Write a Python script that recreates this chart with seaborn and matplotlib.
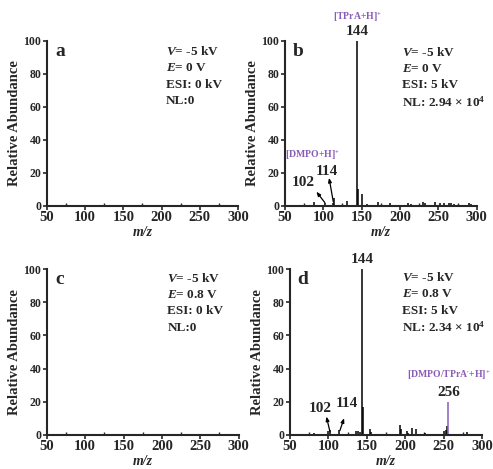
import numpy as np
import pandas as pd
import matplotlib
matplotlib.use("Agg")
import matplotlib.pyplot as plt
import seaborn as sns
from matplotlib.ticker import MultipleLocator

# peak lists (m/z, relative abundance %)
mz_b = [88, 102, 113, 114, 131, 144, 145, 151, 157, 171, 187, 210, 214, 230, 232,
        245, 252, 257, 264, 267, 270, 290, 292]
ab_b = [2.5, 2, 1.5, 4.5, 3, 100, 10.5, 7.5, 1, 2.5, 1.5, 1.5, 1, 2.5, 2,
        2.5, 2, 1.5, 1.5, 1.5, 1, 1.5, 1]

mz_d = [82, 100, 102, 114, 136, 139, 141, 144, 145, 154, 156, 193, 195, 202, 204,
        209, 214, 226, 251, 253, 254, 280]
ab_d = [1, 2.5, 3, 3, 2, 2.5, 1.5, 100, 17, 3.5, 1.5, 6, 3.5, 2, 1,
        4, 3.5, 1, 2, 3, 5, 1.5]
mz_d_adduct = [256]
ab_d_adduct = [20]

cond_a = ["$V$= -5 kV", "$E$= 0 V", "ESI: 0 kV", "NL:0"]
cond_b = ["$V$= -5 kV", "$E$= 0 V", "ESI: 5 kV", r"NL: 2.94 × 10$^{4}$"]
cond_c = ["$V$= -5 kV", "$E$= 0.8 V", "ESI: 0 kV", "NL:0"]
cond_d = ["$V$= -5 kV", "$E$= 0.8 V", "ESI: 5 kV", r"NL: 2.34 × 10$^{4}$"]

purple = "#8a5cb8"

sns.set_style("ticks")
plt.rcParams["font.family"] = ["Liberation Serif", "DejaVu Serif"]
plt.rcParams["font.weight"] = "bold"
plt.rcParams["mathtext.fontset"] = "custom"
plt.rcParams["mathtext.rm"] = "Liberation Serif:bold"
plt.rcParams["mathtext.it"] = "Liberation Serif:bold:italic"
plt.rcParams["mathtext.bf"] = "Liberation Serif:bold"

fig = plt.figure(figsize=(4.93, 4.69), dpi=100)
ax_a = fig.add_axes([0.095, 0.561, 0.388, 0.352])
ax_b = fig.add_axes([0.578, 0.561, 0.389, 0.352])
ax_c = fig.add_axes([0.095, 0.073, 0.389, 0.353])
ax_d = fig.add_axes([0.588, 0.073, 0.390, 0.353])


def style_axis(ax, letter, cond, cx, cy):
    ax.set_xlim(50, 300)
    ax.set_ylim(0, 100)
    ax.xaxis.set_major_locator(MultipleLocator(50))
    ax.xaxis.set_minor_locator(MultipleLocator(25))
    ax.yaxis.set_major_locator(MultipleLocator(20))
    ax.tick_params(axis="x", which="major", labelsize=10.5, length=3, width=1.2, pad=1)
    ax.tick_params(axis="x", which="minor", direction="in", length=2, width=1)
    ax.tick_params(axis="y", which="major", labelsize=8.5, length=3, width=1.2, pad=1)
    for lab in ax.get_xticklabels() + ax.get_yticklabels():
        lab.set_fontweight("bold")
    sns.despine(ax=ax)
    for s in ["left", "bottom"]:
        ax.spines[s].set_linewidth(1.5)
    ax.set_xlabel("m/z", fontsize=10, fontstyle="italic", fontweight="bold", labelpad=1)
    ax.set_ylabel("Relative Abundance", fontsize=10.5, fontweight="bold", labelpad=2)
    ax.text(67, 93.5, letter, fontsize=14, fontweight="bold", va="center", ha="center")
    for i, line in enumerate(cond):
        ax.text(cx, cy - 10 * i, line, fontsize=9.5, fontweight="bold", va="center", ha="left")


def sticks(ax, mz, ab, color="black"):
    df = pd.DataFrame({"mz": mz, "ab": ab})
    ax.vlines(df["mz"], 0, df["ab"], color=color, linewidth=1.1)


style_axis(ax_a, "a", cond_a, 206, 93.5)
style_axis(ax_b, "b", cond_b, 202, 93)
style_axis(ax_c, "c", cond_c, 207, 94.5)
style_axis(ax_d, "d", cond_d, 196, 95)

sticks(ax_b, mz_b, ab_b)
sticks(ax_d, mz_d, ab_d)
sticks(ax_d, mz_d_adduct, ab_d_adduct, color=purple)

# panel b labels
ax_b.text(144, 101.5, "144", fontsize=11, fontweight="bold", ha="center", va="bottom", clip_on=False)
ax_b.text(144, 110, "[TPrA+H]$^{+}$", fontsize=7, color=purple, ha="center", va="bottom", clip_on=False)
ax_b.text(86, 31, "[DMPO+H]$^{+}$", fontsize=7, color=purple, ha="center", va="center")
ax_b.text(104, 21, "114", fontsize=11, fontweight="bold", ha="center", va="center")
ax_b.text(74, 14, "102", fontsize=11, fontweight="bold", ha="center", va="center")
arrow = dict(arrowstyle="-|>,head_length=0.25,head_width=0.1", color="black", lw=0.9,
             shrinkA=0, shrinkB=0)
ax_b.annotate("", xy=(91, 8.6), xytext=(102, 2), arrowprops=arrow)
ax_b.annotate("", xy=(107.5, 17), xytext=(113, 2.5), arrowprops=arrow)

# panel d labels
ax_d.text(144, 102, "144", fontsize=11, fontweight="bold", ha="center", va="bottom", clip_on=False)
ax_d.text(256, 21.5, "256", fontsize=11, fontweight="bold", ha="center", va="bottom")
ax_d.text(256, 32, "[DMPO/TPrA$^{\\bullet}$+H]$^{+}$", fontsize=7, color=purple,
          ha="center", va="bottom", clip_on=False)
ax_d.text(89, 16, "102", fontsize=11, fontweight="bold", ha="center", va="center")
ax_d.text(124, 19, "114", fontsize=11, fontweight="bold", ha="center", va="center")
ax_d.annotate("", xy=(97.5, 11), xytext=(102, 2), arrowprops=arrow)
ax_d.annotate("", xy=(120.5, 10), xytext=(115, 2.5), arrowprops=arrow)

fig.savefig("out.png", dpi=100)
